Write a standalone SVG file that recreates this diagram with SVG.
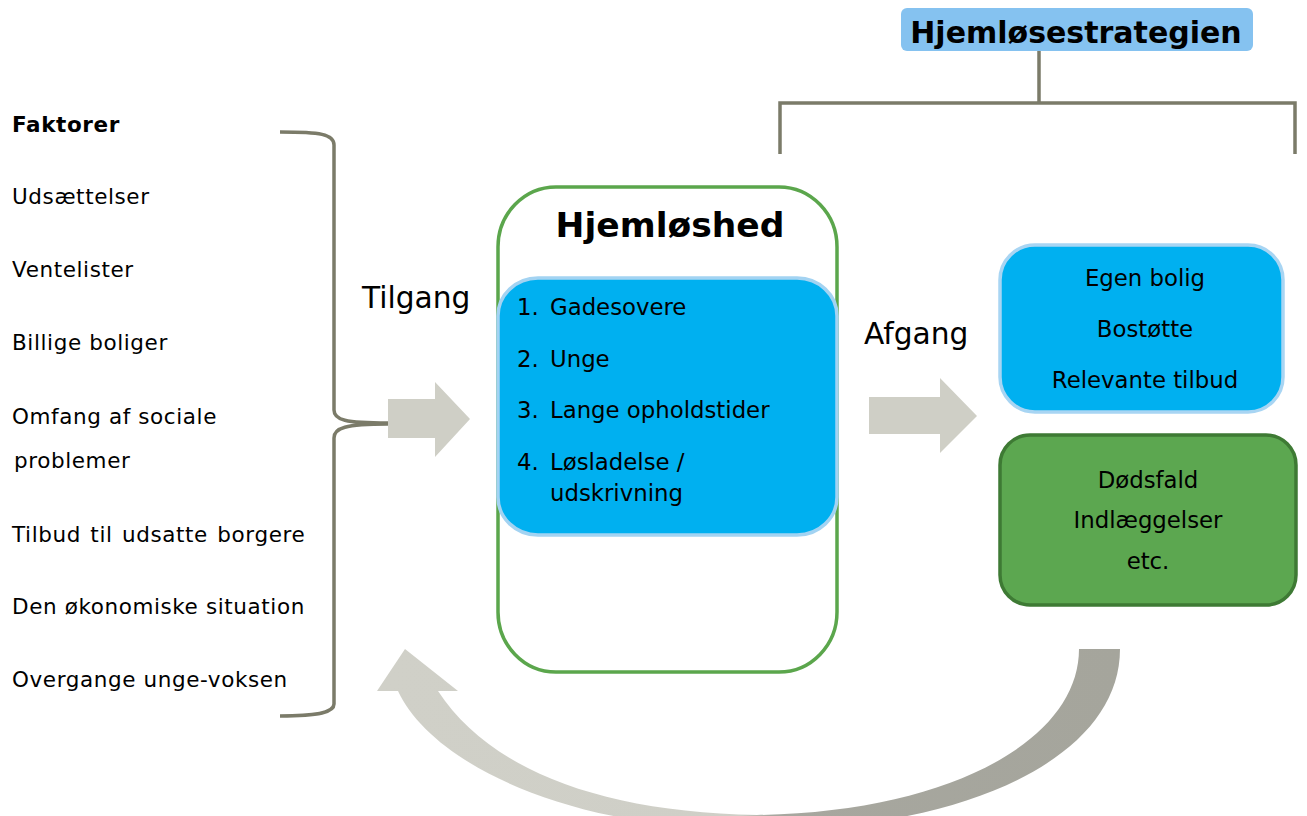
<svg xmlns="http://www.w3.org/2000/svg" width="1307" height="816" viewBox="0 0 1307 816">
<defs>
<style>
.t{font-family:"DejaVu Sans","Verdana",sans-serif;fill:#000}
.lst{font-size:21.5px;letter-spacing:0.6px}
.mid{font-size:22.8px}
.big{font-size:29.7px}
.c{text-anchor:middle}
.b{font-weight:bold}
.line{fill:none;stroke:#7b7b69;stroke-width:3.5}
.arr{fill:#cfcfc6}
</style>
<linearGradient id="g" x1="377" y1="0" x2="1120" y2="0" gradientUnits="userSpaceOnUse">
<stop offset="0" stop-color="#d0d0c8"/>
<stop offset="0.49" stop-color="#cfcfc7"/>
<stop offset="0.53" stop-color="#a7a79f"/>
<stop offset="1" stop-color="#a5a59c"/>
</linearGradient>
</defs>
<rect width="1307" height="816" fill="#fff"/>

<g id="faktorer">
<text class="t lst b" x="12" y="132">Faktorer</text>
<text class="t lst" x="12" y="204">Udsættelser</text>
<text class="t lst" x="12" y="277">Ventelister</text>
<text class="t lst" x="12" y="350">Billige boliger</text>
<text class="t lst" x="12" y="424">Omfang af sociale</text>
<text class="t lst" x="14" y="468">problemer</text>
<text class="t lst" x="12" y="542" word-spacing="2">Tilbud til udsatte borgere</text>
<text class="t lst" x="12" y="614">Den økonomiske situation</text>
<text class="t lst" x="12" y="687">Overgange unge-voksen</text>
</g>

<g id="strategi">
<rect x="901" y="8" width="352" height="43" rx="6" fill="#85c2f0"/>
<text class="t b c" x="1076" y="43" font-size="30">Hjemløsestrategien</text>
</g>

<g id="hjemloshed">
<rect x="498" y="187" width="339" height="485" rx="58" ry="60" fill="#fff" stroke="#5ba64c" stroke-width="3.5"/>
<text class="t b c" x="670" y="237" font-size="34.5">Hjemløshed</text>
<rect x="498" y="278" width="339" height="257" rx="40" ry="38" fill="#00b0f0" stroke="#a3d3f2" stroke-width="3.5"/>
<text class="t mid" x="517" y="315">1.</text><text class="t mid" x="550" y="315">Gadesovere</text>
<text class="t mid" x="517" y="367">2.</text><text class="t mid" x="550" y="367">Unge</text>
<text class="t mid" x="517" y="418">3.</text><text class="t mid" x="550" y="418">Lange opholdstider</text>
<text class="t mid" x="517" y="470">4.</text><text class="t mid" x="550" y="470">Løsladelse /</text>
<text class="t mid" x="550" y="501">udskrivning</text>
</g>

<g id="boligbox">
<rect x="1000" y="245" width="283" height="167" rx="35" fill="#00b0f0" stroke="#a8d5f3" stroke-width="3.5"/>
<text class="t mid c" x="1145" y="286">Egen bolig</text>
<text class="t mid c" x="1145" y="337">Bostøtte</text>
<text class="t mid c" x="1145" y="388">Relevante tilbud</text>
</g>

<g id="doedsbox">
<rect x="1000" y="435" width="296" height="170" rx="30" fill="#5ca750" stroke="#3e7a34" stroke-width="3.5"/>
<text class="t mid c" x="1148" y="488">Dødsfald</text>
<text class="t mid c" x="1148" y="528">Indlæggelser</text>
<text class="t mid c" x="1148" y="569">etc.</text>
</g>

<g id="labels">
<text class="t big" x="362" y="308">Tilgang</text>
<text class="t big" x="864" y="344">Afgang</text>
</g>

<g id="connectors">
<path class="line" d="M280,132 C320,132 334,134 334,145 L334,410 C334,420 345,423 388,423 M388,424 C345,424 334,428 334,438 L334,704 C334,712 320,716 280,716"/>
<path class="line" d="M780,154 L780,103 L1295,103 L1295,154 M1039,51 L1039,103"/>
<polygon class="arr" points="388,399 435,399 435,382 470,419 435,457 435,438 388,438"/>
<polygon class="arr" points="869,397 940,397 940,378 977,416 940,453 940,434 869,434"/>
<path fill="url(#g)" d="M1079,649 L1120,649 C1120,760 960,830 760,830 C560,830 430,760 398,691 L377,691 L405,649 L458,691 L438,691 C490,770 600,812 757,815 C950,812 1079,740 1079,649 Z"/>
</g>
</svg>
